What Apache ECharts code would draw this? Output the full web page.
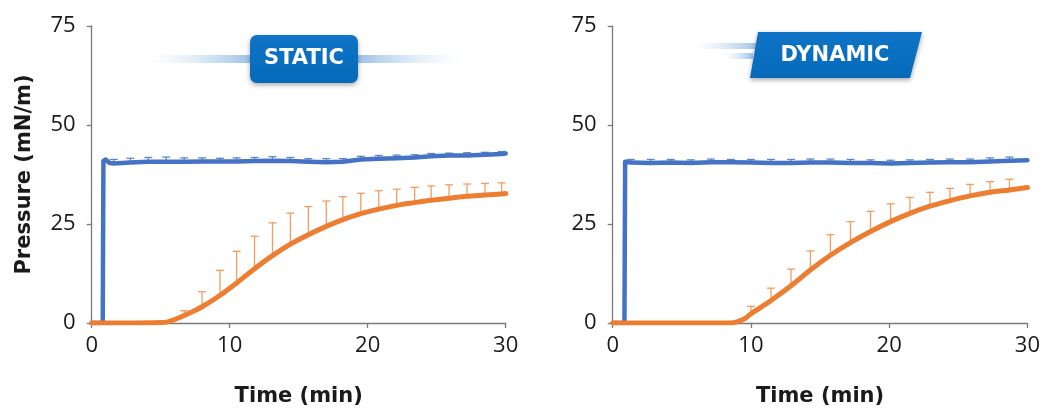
<!DOCTYPE html>
<html>
<head>
<meta charset="utf-8">
<script src="https://cdn.jsdelivr.net/npm/echarts@6/dist/echarts.min.js"></script>
<style>
  html, body { margin: 0; padding: 0; background: #fff; }
  #chart { width: 1043px; height: 412px; }
</style>
</head>
<body>
<div id="chart"></div>
<script>
// ---- STATIC panel ----
// blue trace (time in min, pressure in mN/m)
const staticBlueTime  = [0, 0.8, 0.85, 1.0, 1.3, 1.6, 2.8, 4.1, 5.4, 6.7, 8.0, 9.3, 10.5, 11.8, 13.1, 14.4, 15.7, 17.0, 18.2, 19.5, 20.8, 22.1, 23.4, 24.6, 25.9, 27.2, 28.5, 29.7, 30];
const staticBlueValue = [0, 0, 40.9, 41.3, 40.4, 40.3, 40.5, 40.7, 40.7, 40.7, 40.8, 40.8, 40.8, 40.9, 41.0, 40.9, 40.7, 40.6, 40.7, 41.3, 41.5, 41.6, 41.8, 42.1, 42.3, 42.3, 42.5, 42.7, 42.8];
// blue error bars: time, upper deviation
const staticBlueErrTime = [1.6, 2.8, 4.1, 5.4, 6.7, 8.0, 9.3, 10.5, 11.8, 13.1, 14.4, 15.7, 17.0, 18.2, 19.5, 20.8, 22.1, 23.4, 24.6, 25.9, 27.2, 28.5, 29.7];
const staticBlueErrSd   = [1.0, 1.1, 1.1, 1.2, 1.0, 0.9, 0.8, 0.9, 0.9, 1.0, 0.9, 0.8, 0.9, 0.8, 0.8, 0.8, 0.8, 0.7, 0.7, 0.6, 0.7, 0.6, 0.6];
// orange trace
const staticOrangeTime  = [0, 3, 5, 5.5, 6.1, 6.7, 8.0, 9.3, 10.5, 11.8, 13.1, 14.4, 15.7, 17.0, 18.2, 19.5, 20.8, 22.1, 23.4, 24.6, 25.9, 27.2, 28.5, 29.7, 30];
const staticOrangeValue = [0, 0, 0.1, 0.3, 1.0, 1.9, 4.1, 7.0, 10.1, 13.7, 17.0, 19.9, 22.3, 24.4, 26.1, 27.6, 28.75, 29.7, 30.4, 31.0, 31.5, 32.0, 32.3, 32.6, 32.7];
// orange error bars: time, mean, upper limit
const staticOrangeErrTime = [6.7, 8.0, 9.3, 10.5, 11.8, 13.1, 14.4, 15.7, 17.0, 18.2, 19.5, 20.8, 22.1, 23.4, 24.6, 25.9, 27.2, 28.5, 29.7];
const staticOrangeErrMean = [1.9, 4.1, 7.0, 10.1, 13.7, 17.0, 19.9, 22.3, 24.4, 26.1, 27.6, 28.75, 29.7, 30.4, 31.0, 31.5, 32.0, 32.3, 32.6];
const staticOrangeErrTop  = [3.1, 7.9, 13.3, 18.1, 21.9, 25.3, 27.75, 29.4, 30.8, 31.9, 32.75, 33.4, 33.8, 34.25, 34.6, 34.9, 35.1, 35.25, 35.4];

// ---- DYNAMIC panel ----
const dynamicBlueTime  = [0, 0.85, 0.9, 1.0, 1.3, 2.75, 4.2, 5.65, 7.1, 8.55, 10.0, 11.45, 12.9, 14.3, 15.75, 17.2, 18.65, 20.1, 21.5, 22.95, 24.4, 25.85, 27.3, 28.7, 30];
const dynamicBlueValue = [0, 0, 40.7, 41.0, 40.5, 40.4, 40.5, 40.4, 40.6, 40.6, 40.5, 40.4, 40.4, 40.5, 40.5, 40.4, 40.4, 40.3, 40.4, 40.5, 40.6, 40.6, 40.8, 41.0, 41.1];
const dynamicBlueErrTime = [1.3, 2.75, 4.2, 5.65, 7.1, 8.55, 10.0, 11.45, 12.9, 14.3, 15.75, 17.2, 18.65, 20.1, 21.5, 22.95, 24.4, 25.85, 27.3, 28.7];
const dynamicBlueErrSd   = [0.8, 0.9, 0.8, 0.8, 0.8, 0.7, 0.8, 0.9, 0.9, 0.9, 0.9, 0.9, 0.8, 0.8, 0.8, 0.8, 0.8, 0.8, 0.9, 0.9];
const dynamicOrangeTime  = [0, 5, 8.5, 9.0, 9.5, 10.0, 11.45, 12.9, 14.3, 15.75, 17.2, 18.65, 20.1, 21.5, 22.95, 24.4, 25.85, 27.3, 28.7, 30];
const dynamicOrangeValue = [0, 0, 0, 0.3, 1.0, 2.3, 5.7, 9.4, 13.4, 17.1, 20.3, 23.1, 25.6, 27.7, 29.5, 30.9, 32.1, 33.0, 33.6, 34.2];
const dynamicOrangeErrTime = [10.0, 11.45, 12.9, 14.3, 15.75, 17.2, 18.65, 20.1, 21.5, 22.95, 24.4, 25.85, 27.3, 28.7];
const dynamicOrangeErrMean = [2.3, 5.7, 9.4, 13.4, 17.1, 20.3, 23.1, 25.6, 27.7, 29.5, 30.9, 32.1, 33.0, 33.6];
const dynamicOrangeErrTop  = [4.2, 8.8, 13.6, 18.2, 22.3, 25.6, 28.2, 30.1, 31.7, 33.0, 34.0, 35.0, 35.7, 36.3];

// axis ticks
const xTicks = [0, 10, 20, 30];
const yTicks = [0, 25, 50, 75];

const BLUE = '#4472C4';
const ORANGE = '#ED7D31';

const zip = (a, b) => a.map((v, i) => [v, b[i]]);

function errorBars(times, lows, highs, color, axisIdx) {
  return {
    type: 'custom',
    xAxisIndex: axisIdx,
    yAxisIndex: axisIdx,
    z: 1,
    silent: true,
    data: times.map((t, i) => [t, lows[i], highs[i]]),
    encode: { x: 0, y: [1, 2] },
    renderItem(params, api) {
      const lo = api.coord([api.value(0), api.value(1)]);
      const hi = api.coord([api.value(0), api.value(2)]);
      const st = { stroke: color, lineWidth: 1.3 };
      return {
        type: 'group',
        children: [
          { type: 'line', shape: { x1: lo[0], y1: lo[1], x2: hi[0], y2: hi[1] }, style: st },
          { type: 'line', shape: { x1: hi[0] - 4, y1: hi[1], x2: hi[0] + 4, y2: hi[1] }, style: st }
        ]
      };
    }
  };
}

function lineSeries(t, v, color, width, axisIdx, smooth) {
  return {
    type: 'line',
    xAxisIndex: axisIdx,
    yAxisIndex: axisIdx,
    z: 3,
    data: zip(t, v),
    showSymbol: false,
    smooth: smooth,
    lineStyle: { color: color, width: width, cap: 'round', join: 'round' },
    silent: true,
    animation: false
  };
}

const tickFont = { fontFamily: 'Open Sans', fontSize: 22, color: '#1a1a1a' };
const titleFont = { fontFamily: 'DejaVu Sans', fontSize: 21, fontWeight: 'bold', color: '#1a1a1a' };
const axisGrey = '#7a7a7a';

function xAxis(gridIndex) {
  return {
    type: 'value', gridIndex, min: xTicks[0], max: xTicks[xTicks.length - 1], interval: xTicks[1] - xTicks[0],
    name: 'Time (min)', nameLocation: 'middle', nameGap: 63, nameTextStyle: titleFont,
    axisLine: { show: true, lineStyle: { color: axisGrey, width: 1.3 } },
    axisTick: { show: true, length: 5, lineStyle: { color: axisGrey, width: 1.3 } },
    axisLabel: Object.assign({ margin: 12 }, tickFont),
    splitLine: { show: false }
  };
}
function yAxis(gridIndex, withName) {
  return {
    type: 'value', gridIndex, min: yTicks[0], max: yTicks[yTicks.length - 1], interval: yTicks[1] - yTicks[0],
    name: withName ? 'Pressure (mN/m)' : '', nameLocation: 'middle', nameGap: 57, nameTextStyle: titleFont,
    axisLine: { show: true, lineStyle: { color: axisGrey, width: 1.3 } },
    axisTick: { show: true, length: 5, lineStyle: { color: axisGrey, width: 1.3 } },
    axisLabel: Object.assign({ margin: 16 }, tickFont),
    splitLine: { show: false }
  };
}

const glow = (x, y, w, h, toRight) => ({
  type: 'rect', silent: true,
  shape: { x, y, width: w, height: h },
  style: {
    fill: new echarts.graphic.LinearGradient(0, 0, 1, 0, toRight
      ? [{ offset: 0, color: 'rgba(150,190,230,0.95)' }, { offset: 1, color: 'rgba(220,235,248,0)' }]
      : [{ offset: 0, color: 'rgba(220,235,248,0)' }, { offset: 1, color: 'rgba(150,190,230,0.95)' }])
  }
});

const badgeFill = new echarts.graphic.LinearGradient(0, 0, 0, 1, [
  { offset: 0, color: '#0F74C6' }, { offset: 1, color: '#066AB9' }
]);

const chart = echarts.init(document.getElementById('chart'), null, { renderer: 'canvas' });
chart.setOption({
  animation: false,
  backgroundColor: '#fff',
  grid: [
    { left: 91.7, top: 26, width: 414, height: 300 },
    { left: 612.7, top: 26, width: 415, height: 300 }
  ],
  xAxis: [xAxis(0), xAxis(1)],
  yAxis: [yAxis(0, true), yAxis(1, false)],
  series: [
    errorBars(staticBlueErrTime, staticBlueErrTime.map(t => staticBlueValue[staticBlueTime.indexOf(t)]),
      staticBlueErrTime.map((t, i) => staticBlueValue[staticBlueTime.indexOf(t)] + staticBlueErrSd[i]), 'rgba(68,114,196,0.85)', 0),
    errorBars(staticOrangeErrTime, staticOrangeErrMean, staticOrangeErrTop, 'rgba(240,140,70,0.85)', 0),
    lineSeries(staticBlueTime, staticBlueValue, BLUE, 4.5, 0, false),
    lineSeries(staticOrangeTime, staticOrangeValue, ORANGE, 5, 0, 0.35),
    errorBars(dynamicBlueErrTime, dynamicBlueErrTime.map(t => dynamicBlueValue[dynamicBlueTime.indexOf(t)]),
      dynamicBlueErrTime.map((t, i) => dynamicBlueValue[dynamicBlueTime.indexOf(t)] + dynamicBlueErrSd[i]), 'rgba(68,114,196,0.85)', 1),
    errorBars(dynamicOrangeErrTime, dynamicOrangeErrMean, dynamicOrangeErrTop, 'rgba(240,140,70,0.85)', 1),
    lineSeries(dynamicBlueTime, dynamicBlueValue, BLUE, 4.5, 1, false),
    lineSeries(dynamicOrangeTime, dynamicOrangeValue, ORANGE, 5, 1, 0.35)
  ],
  graphic: [
    // STATIC badge with glow bars on both sides
    glow(145, 55, 106, 8, false),
    glow(358, 55, 107, 8, true),
    {
      type: 'rect', silent: true,
      shape: { x: 250, y: 35, width: 108, height: 48, r: 7 },
      style: { fill: badgeFill, shadowBlur: 5, shadowOffsetY: 2, shadowColor: 'rgba(0,0,0,0.35)' }
    },
    {
      type: 'text', silent: true, x: 304, y: 59,
      style: { text: 'STATIC', fill: '#fff', font: 'bold 21px "DejaVu Sans"', align: 'center', verticalAlign: 'middle' }
    },
    // DYNAMIC badge with speed streaks
    glow(690, 43, 68, 6, false),
    glow(722, 53, 31, 6, false),
    {
      type: 'polygon', silent: true,
      shape: { points: [[758, 32], [922, 32], [910, 78], [750, 78]] },
      style: { fill: badgeFill, shadowBlur: 5, shadowOffsetY: 2, shadowColor: 'rgba(0,0,0,0.35)' }
    },
    {
      type: 'text', silent: true, x: 835, y: 56,
      style: { text: 'DYNAMIC', fill: '#fff', font: 'bold 21px "DejaVu Sans"', align: 'center', verticalAlign: 'middle' }
    }
  ]
});
</script>
</body>
</html>
